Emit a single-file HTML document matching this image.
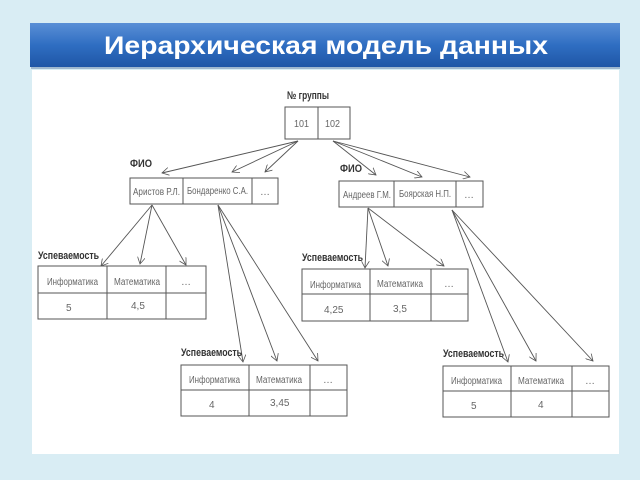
<!DOCTYPE html>
<html><head><meta charset="utf-8"><style>
html,body{margin:0;padding:0;width:640px;height:480px;overflow:hidden;background:#d9edf4}
svg{display:block}
text{font-family:"Liberation Sans",sans-serif}
</style></head><body>
<svg width="640" height="480" viewBox="0 0 640 480" xmlns="http://www.w3.org/2000/svg">
<defs>
<linearGradient id="g" x1="0" y1="0" x2="0" y2="1">
<stop offset="0" stop-color="#5a8fd6"/><stop offset="0.5" stop-color="#2f6ec2"/><stop offset="1" stop-color="#1f56a6"/>
</linearGradient>
<marker id="a" markerWidth="8" markerHeight="8" refX="7" refY="4" orient="auto" markerUnits="userSpaceOnUse">
<path d="M0,0 L7,4 L0,8" fill="none" stroke="#555" stroke-width="0.8"/>
</marker>
</defs>
<rect x="0" y="0" width="640" height="480" fill="#d9edf4"/>
<rect x="32" y="70" width="587" height="384" fill="#fff"/>
<rect x="31" y="26" width="589" height="43" fill="#1a3f7a" opacity="0.3"/>
<rect x="30" y="23" width="590" height="44" fill="url(#g)"/>
<text x="104" y="54" font-size="25" font-weight="bold" fill="#fff" textLength="444" lengthAdjust="spacingAndGlyphs">Иерархическая модель данных</text>

<g stroke="#555" stroke-width="0.9" fill="none" marker-end="url(#a)">
<line x1="298" y1="141" x2="162" y2="173"/>
<line x1="298" y1="141" x2="232" y2="172"/>
<line x1="298" y1="141" x2="265" y2="172"/>
<line x1="333" y1="141" x2="376" y2="175"/>
<line x1="333" y1="141" x2="422" y2="177"/>
<line x1="333" y1="141" x2="470" y2="177"/>
<line x1="152" y1="205" x2="101" y2="266"/>
<line x1="152" y1="205" x2="140" y2="264"/>
<line x1="152" y1="205" x2="186" y2="265"/>
<line x1="218" y1="205" x2="243" y2="362"/>
<line x1="218" y1="205" x2="277" y2="361"/>
<line x1="218" y1="205" x2="318" y2="361"/>
<line x1="368" y1="208" x2="365" y2="268"/>
<line x1="368" y1="208" x2="388" y2="266"/>
<line x1="368" y1="208" x2="444" y2="266"/>
<line x1="452" y1="210" x2="508" y2="362"/>
<line x1="452" y1="210" x2="536" y2="361"/>
<line x1="452" y1="210" x2="593" y2="361"/>
</g>

<g stroke="#555" stroke-width="1" fill="none">
<rect x="285" y="107" width="65" height="32"/><line x1="318" y1="107" x2="318" y2="139"/>
<rect x="130" y="178" width="148" height="26"/><line x1="183" y1="178" x2="183" y2="204"/><line x1="252" y1="178" x2="252" y2="204"/>
<rect x="339" y="181" width="144" height="26"/><line x1="394" y1="181" x2="394" y2="207"/><line x1="456" y1="181" x2="456" y2="207"/>
<rect x="38" y="266" width="168" height="53"/><line x1="38" y1="293" x2="206" y2="293"/><line x1="107" y1="266" x2="107" y2="319"/><line x1="166" y1="266" x2="166" y2="319"/>
<rect x="302" y="269" width="166" height="52"/><line x1="302" y1="294" x2="468" y2="294"/><line x1="370" y1="269" x2="370" y2="321"/><line x1="431" y1="269" x2="431" y2="321"/>
<rect x="181" y="365" width="166" height="51"/><line x1="181" y1="390" x2="347" y2="390"/><line x1="249" y1="365" x2="249" y2="416"/><line x1="310" y1="365" x2="310" y2="416"/>
<rect x="443" y="366" width="166" height="51"/><line x1="443" y1="391" x2="609" y2="391"/><line x1="511" y1="366" x2="511" y2="417"/><line x1="572" y1="366" x2="572" y2="417"/>
</g>

<g font-size="11" font-weight="bold" fill="#333" lengthAdjust="spacingAndGlyphs">
<text x="287" y="99" textLength="42" lengthAdjust="spacingAndGlyphs">№ группы</text>
<text x="130" y="167" textLength="22" lengthAdjust="spacingAndGlyphs">ФИО</text>
<text x="340" y="172" textLength="22" lengthAdjust="spacingAndGlyphs">ФИО</text>
<text x="38" y="259" textLength="61" lengthAdjust="spacingAndGlyphs">Успеваемость</text>
<text x="302" y="261" textLength="61" lengthAdjust="spacingAndGlyphs">Успеваемость</text>
<text x="181" y="356" textLength="61" lengthAdjust="spacingAndGlyphs">Успеваемость</text>
<text x="443" y="357" textLength="61" lengthAdjust="spacingAndGlyphs">Успеваемость</text>
</g>
<g font-size="10" fill="#666">
<text x="294" y="127" textLength="15" lengthAdjust="spacingAndGlyphs">101</text><text x="325" y="127" textLength="15" lengthAdjust="spacingAndGlyphs">102</text>
<text x="133" y="195" textLength="47" lengthAdjust="spacingAndGlyphs">Аристов Р.Л.</text><text x="187" y="194" textLength="61" lengthAdjust="spacingAndGlyphs">Бондаренко С.А.</text><text x="260" y="195">…</text>
<text x="343" y="198" textLength="48" lengthAdjust="spacingAndGlyphs">Андреев Г.М.</text><text x="399" y="197" textLength="52" lengthAdjust="spacingAndGlyphs">Боярская Н.П.</text><text x="464" y="198">…</text>
<text x="47" y="285" textLength="51" lengthAdjust="spacingAndGlyphs">Информатика</text><text x="114" y="285" textLength="46" lengthAdjust="spacingAndGlyphs">Математика</text><text x="181" y="285">…</text>
<text x="66" y="311">5</text><text x="131" y="309">4,5</text>
<text x="310" y="288" textLength="51" lengthAdjust="spacingAndGlyphs">Информатика</text><text x="377" y="287" textLength="46" lengthAdjust="spacingAndGlyphs">Математика</text><text x="444" y="287">…</text>
<text x="324" y="313">4,25</text><text x="393" y="312">3,5</text>
<text x="189" y="383" textLength="51" lengthAdjust="spacingAndGlyphs">Информатика</text><text x="256" y="383" textLength="46" lengthAdjust="spacingAndGlyphs">Математика</text><text x="323" y="383">…</text>
<text x="209" y="408">4</text><text x="270" y="406">3,45</text>
<text x="451" y="384" textLength="51" lengthAdjust="spacingAndGlyphs">Информатика</text><text x="518" y="384" textLength="46" lengthAdjust="spacingAndGlyphs">Математика</text><text x="585" y="384">…</text>
<text x="471" y="409">5</text><text x="538" y="408">4</text>
</g>
</svg>
</body></html>
